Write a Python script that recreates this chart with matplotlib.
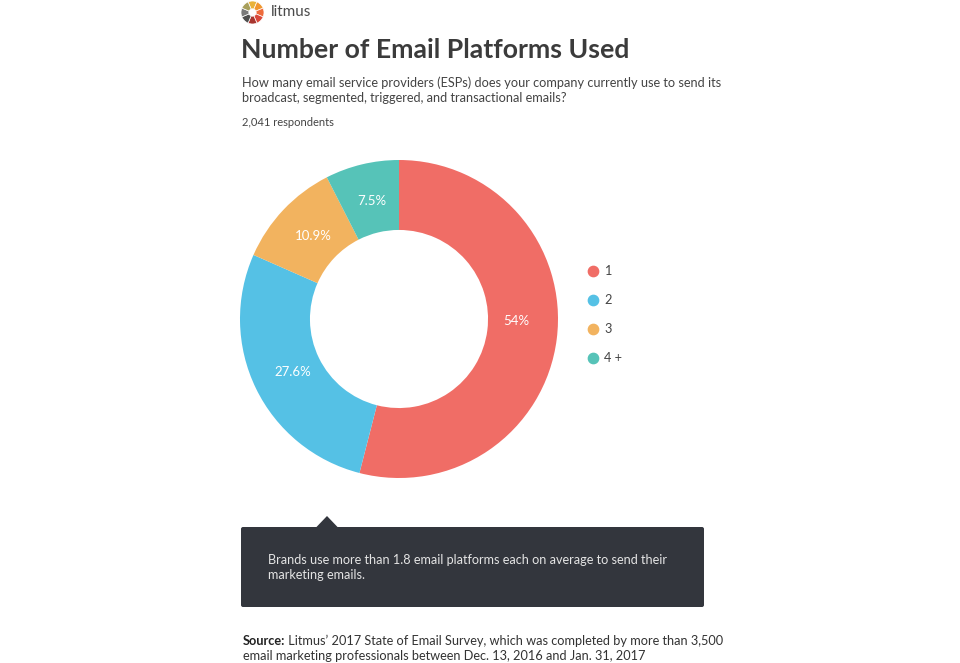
import matplotlib.pyplot as plt
from matplotlib.patches import FancyBboxPatch, Polygon
import numpy as np

# share of respondents by number of email platforms used
categories = ["1", "2", "3", "4 +"]
shares = [54, 27.6, 10.9, 7.5]
share_labels = ["54%", "27.6%", "10.9%", "7.5%"]
colors = ["#F06D66", "#55C1E5", "#F2B35F", "#56C3B8"]

logo_colors = ["#E9B23A", "#F0962F", "#EE6B3C", "#D9473A", "#A8352F",
               "#4E4E4E", "#7A7A7A", "#A89F5B"]

W, H = 960, 663
fig = plt.figure(figsize=(W / 100, H / 100), dpi=100)
fig.patch.set_facecolor("white")
plt.rcParams["font.family"] = ["Lato", "DejaVu Sans"]

# page axes in pixel coords for the text and the note box
page = fig.add_axes([0, 0, 1, 1])
page.set_xlim(0, W)
page.set_ylim(H, 0)
page.axis("off")

# logo + brand
logo = fig.add_axes([241 / W, 1 - 24 / H, 23 / W, 23 / H])
logo.pie([1] * len(logo_colors), colors=logo_colors, startangle=90 + 22.5, counterclock=False,
         radius=1, wedgeprops=dict(width=0.68, edgecolor="white", linewidth=0.5))
logo.set_xlim(-1, 1)
logo.set_ylim(-1, 1)
logo.axis("off")
page.text(271, 12, "litmus", fontsize=11, color="#4a4a4a", va="center", ha="left")

# headings
page.text(241, 50, "Number of Email Platforms Used", fontsize=19.2, fontweight="bold",
          color="#3b3b3b", va="center", ha="left")
page.text(242, 83, "How many email service providers (ESPs) does your company currently use to send its",
          fontsize=9.2, color="#444444", va="center", ha="left")
page.text(242, 98, "broadcast, segmented, triggered, and transactional emails?",
          fontsize=9.2, color="#444444", va="center", ha="left")
page.text(242, 123, "2,041 respondents", fontsize=8, color="#444444", va="center", ha="left")

# donut
ax = fig.add_axes([240 / W, 1 - 478 / H, 318 / W, 318 / H])
wedges, _ = ax.pie(shares, colors=colors, startangle=90, counterclock=False, radius=1,
                   wedgeprops=dict(width=0.44, linewidth=0))
ax.set_xlim(-1, 1)
ax.set_ylim(-1, 1)
ax.axis("off")
for i, (w, lab) in enumerate(zip(wedges, share_labels)):
    t = np.deg2rad((w.theta1 + w.theta2) / 2)
    if i == 0:
        t = np.deg2rad(-1)  # the big slice's label sits near the horizontal
    ax.text(0.74 * np.cos(t), 0.76 * np.sin(t), lab, ha="center", va="center",
            fontsize=9.5, color="white")

# legend
for i, (c, lab) in enumerate(zip(colors, categories)):
    y = 271 + i * 29
    page.scatter([593], [y], s=55, color=c, zorder=3)
    page.text(604, y, lab, fontsize=9.2, color="#444444", va="center", ha="left")

# note box
box = FancyBboxPatch((241, 527), 463, 80, boxstyle="round,pad=0,rounding_size=2",
                     facecolor="#33363D", edgecolor="none")
page.add_patch(box)
page.add_patch(Polygon([[316, 527.5], [327, 516], [338, 527.5]], closed=True,
                       facecolor="#33363D", edgecolor="none"))
page.text(268, 560, "Brands use more than 1.8 email platforms each on average to send their",
          fontsize=9.1, color="#E4E4E4", va="center", ha="left")
page.text(268, 575, "marketing emails.", fontsize=9.1, color="#E4E4E4", va="center", ha="left")

# source
src = page.text(243, 641, "Source:", fontsize=9.2, fontweight="bold", color="#222222",
                va="center", ha="left")
page.annotate(" Litmus\u2019 2017 State of Email Survey, which was completed by more than 3,500",
              xy=(1, 0.5), xycoords=src, va="center", ha="left",
              fontsize=9.2, color="#333333")
page.text(243, 656, "email marketing professionals between Dec. 13, 2016 and Jan. 31, 2017",
          fontsize=9.2, color="#333333", va="center", ha="left")

fig.savefig("out.png", dpi=100)
